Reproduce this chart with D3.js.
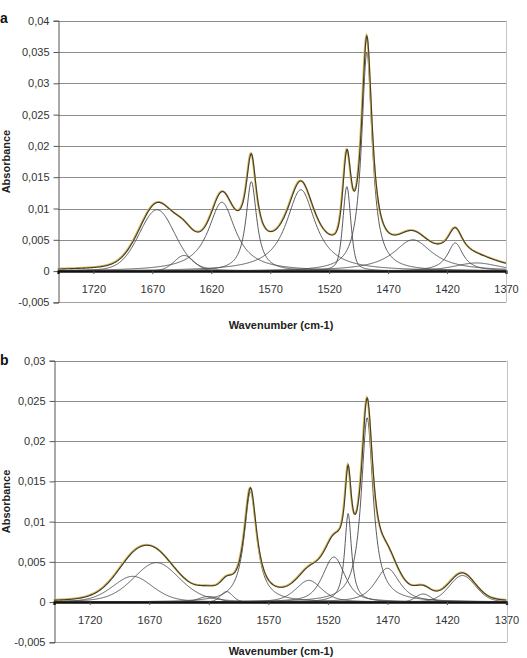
<!DOCTYPE html>
<html>
<head>
<meta charset="utf-8">
<script src="https://cdn.jsdelivr.net/npm/d3@7"></script>
<style>
  body { margin: 0; background: #fff; }
  svg text { font-family: "Liberation Sans", Arial, sans-serif; fill: #333; }
  .panel-letter { font-weight: bold; font-size: 14px; fill: #111; }
  .axis-title { font-weight: bold; font-size: 11px; fill: #222; }
</style>
</head>
<body>
<div id="chart"></div>
<script>
// wavenumber axis (cm-1), shared by both panels
var xTicks = [1720, 1670, 1620, 1570, 1520, 1470, 1420, 1370];

// panel a: fitted bands
var centerA = [1666, 1643, 1611, 1586, 1544, 1505, 1488, 1449, 1413, 1395];
var heightA = [0.0098, 0.0025, 0.0110, 0.0143, 0.0130, 0.0135, 0.0350, 0.0050, 0.0045, 0.0013];
var fwhmA   = [36, 20, 28, 11, 30, 8, 11, 40, 16, 45];
var etaA    = [0.2, 0.2, 1, 1, 1, 0.5, 1, 1, 1, 0.5];
var yTicksA = [-0.005, 0, 0.005, 0.01, 0.015, 0.02, 0.025, 0.03, 0.035, 0.04];

// panel b: fitted bands
var centerB = [1684, 1664, 1620, 1605, 1585, 1536, 1515, 1503, 1487, 1470, 1440, 1407];
var heightB = [0.0032, 0.0049, 0.0007, 0.0013, 0.0137, 0.0027, 0.0056, 0.0110, 0.0229, 0.0042, 0.0010, 0.0033];
var fwhmB   = [40, 46, 20, 12, 13, 26, 22, 7, 12, 24, 15, 26];
var etaB    = [0.3, 0.3, 0, 0.2, 1, 0.5, 0.6, 1, 1, 0.7, 0, 0.2];
var yTicksB = [-0.005, 0, 0.005, 0.01, 0.015, 0.02, 0.025, 0.03];

var width = 527, height = 658;
var wnRange = [1750, 1370];

var locale = d3.formatLocale({decimal: ",", thousands: ".", grouping: [3], currency: ["", ""], minus: "-"});
var fmt = locale.format(".3~f");

// pseudo-Voigt band shape
function band(w, c, h, f, eta) {
    var d = (w - c) / f;
    var lor = 1 / (1 + 4 * d * d);
    var gau = Math.exp(-4 * Math.LN2 * d * d);
    return h * (eta * lor + (1 - eta) * gau);
}

function buildCurves(center, heights, fwhm, eta) {
    var wns = d3.range(wnRange[0], wnRange[1] - 0.1, -0.5);
    var comps = center.map(function (c, i) {
        return wns.map(function (w) { return [w, band(w, c, heights[i], fwhm[i], eta[i])]; });
    });
    var total = wns.map(function (w, j) {
        return [w, d3.sum(comps, function (cp) { return cp[j][1]; })];
    });
    return {comps: comps, total: total};
}

var svg = d3.select("#chart").append("svg")
    .attr("width", width)
    .attr("height", height);

function drawPanel(p) {
    var x = d3.scaleLinear().domain(wnRange).range([p.left, p.right]);
    var y = d3.scaleLinear().domain([p.yTicks[0], p.yTicks[p.yTicks.length - 1]]).range([p.bottom, p.top]);
    var g = svg.append("g");

    // gridlines
    g.selectAll(".grid").data(p.yTicks.filter(function (t) { return t > 0; }))
        .enter().append("line")
        .attr("x1", p.left).attr("x2", p.right)
        .attr("y1", function (d) { return Math.round(y(d)) + 0.5; })
        .attr("y2", function (d) { return Math.round(y(d)) + 0.5; })
        .attr("stroke", "#8c8c8c");

    // frame: bottom and right
    g.append("line").attr("x1", p.left).attr("x2", p.right)
        .attr("y1", Math.round(p.bottom) + 0.5).attr("y2", Math.round(p.bottom) + 0.5)
        .attr("stroke", "#a0a0a0");
    g.append("line").attr("x1", Math.round(p.right) + 0.5).attr("x2", Math.round(p.right) + 0.5)
        .attr("y1", p.top).attr("y2", p.bottom)
        .attr("stroke", "#c4c4c4");

    // y axis
    var yAxis = d3.axisLeft(y).tickValues(p.yTicks).tickFormat(fmt).tickSize(5).tickPadding(4);
    var ya = g.append("g").attr("transform", "translate(" + (Math.round(p.left) + 0.5) + ",0)").call(yAxis);
    ya.select(".domain").attr("stroke", "#555");
    ya.selectAll(".tick line").attr("stroke", "#555");
    ya.selectAll("text").attr("fill", "#333")
        .style("font-family", "'Liberation Sans', Arial, sans-serif").style("font-size", "11px");

    var curves = buildCurves(p.center, p.height, p.fwhm, p.eta);
    var line = d3.line().x(function (d) { return x(d[0]); }).y(function (d) { return y(d[1]); });

    // bands
    g.selectAll(".comp").data(curves.comps).enter().append("path")
        .attr("d", line)
        .attr("fill", "none")
        .attr("stroke", "#4a4a4a")
        .attr("stroke-width", 0.9);

    // measured spectrum and fitted sum
    g.append("path").attr("d", line(curves.total))
        .attr("fill", "none").attr("stroke", "#d8b850").attr("stroke-width", 2)
        .attr("transform", "translate(-0.4,-0.4)");
    g.append("path").attr("d", line(curves.total))
        .attr("fill", "none").attr("stroke", "#3c3c3c").attr("stroke-width", 1.1);

    // x axis at zero
    var xAxis = d3.axisBottom(x).tickValues(xTicks).tickFormat(d3.format("d")).tickSize(3).tickPadding(p.xPad);
    var xa = g.append("g").attr("transform", "translate(0," + y(0) + ")").call(xAxis);
    xa.select(".domain").attr("stroke", "#111").attr("stroke-width", 2.2);
    xa.selectAll(".tick line").attr("stroke", "#555");
    xa.selectAll("text").attr("fill", "#333")
        .style("font-family", "'Liberation Sans', Arial, sans-serif").style("font-size", "11px");

    // titles
    g.append("text").attr("class", "axis-title")
        .attr("transform", "translate(10," + ((p.top + p.bottom) / 2) + ") rotate(-90)")
        .attr("text-anchor", "middle")
        .text("Absorbance");
    g.append("text").attr("class", "axis-title")
        .attr("x", 281).attr("y", p.titleY)
        .attr("text-anchor", "middle")
        .text("Wavenumber (cm-1)");
    g.append("text").attr("class", "panel-letter")
        .attr("x", 0).attr("y", p.letterY)
        .text(p.letter);
}

drawPanel({letter: "a", letterY: 23, left: 58, right: 506, top: 20.7, bottom: 302.4,
    yTicks: yTicksA, center: centerA, height: heightA, fwhm: fwhmA, eta: etaA,
    xPad: 11, titleY: 329});

drawPanel({letter: "b", letterY: 365, left: 54, right: 506.5, top: 360.7, bottom: 642.3,
    yTicks: yTicksB, center: centerB, height: heightB, fwhm: fwhmB, eta: etaB,
    xPad: 11, titleY: 655});
</script>
</body>
</html>
